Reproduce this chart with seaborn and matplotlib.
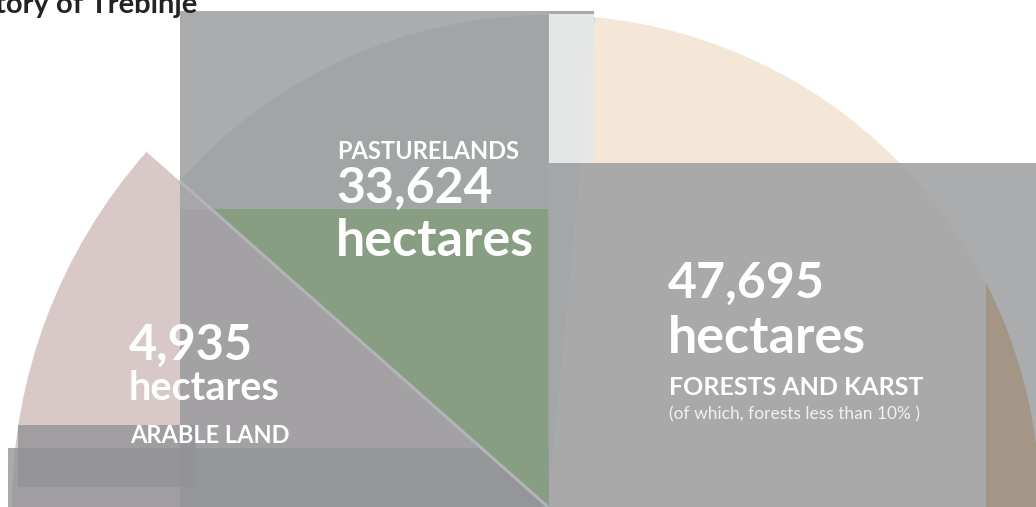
import numpy as np
import matplotlib
matplotlib.use("Agg")
import matplotlib.pyplot as plt
from matplotlib.patches import Rectangle
import seaborn as sns

# ---------------- data ----------------
categories = ["Forests and karst", "Other", "Pasturelands", "Arable land"]
hectares = [47695, 0, 33624, 4935]
# angular share of each slice on the half disc (degrees)
arc_degrees = [84.5, 5.5, 48.5, 41.5]
slice_colors = ["#f5e7d8", "#c9d3de", "#879e82", "#d9c8c8"]
title_text = "Territory of Trebinje"
unit_text = "hectares"
forest_note = "(of which, forests less than 10% )"

# ---------------- style ----------------
sns.set_theme(style="white")
plt.rcParams["font.family"] = ["Lato", "DejaVu Sans"]
palette = sns.color_palette(slice_colors)

W, H = 1036, 507
fig = plt.figure(figsize=(W / 100, H / 100), dpi=100)
ax = fig.add_axes([0, 0, 1, 1])

CX, CY = 548, 0
R = 492

values = list(arc_degrees) + [sum(arc_degrees)]  # hidden lower half
wedges, _ = ax.pie(values, colors=list(palette) + ["white"], startangle=0,
                   counterclock=True, center=(CX, CY), radius=R, frame=True,
                   wedgeprops=dict(linewidth=0))
wedges[-1].set_visible(False)
beige, other, green, pink = wedges[0], wedges[1], wedges[2], wedges[3]
pink.set_radius(536)
for w in (beige, other, pink):
    w.set_zorder(1)
green.set_zorder(5)

ax.set_xlim(0, W)
ax.set_ylim(0, H)
ax.set_aspect("auto")
ax.axis("off")


def prect(x0, x1, py0, py1, z, **kw):
    r = Rectangle((x0, H - py1), x1 - x0, py1 - py0, zorder=z, linewidth=0, **kw)
    ax.add_patch(r)
    return r


# overlay panels
prect(180, 549, 209, 507, 2, facecolor="#a4a1a4")
prect(18, 196, 425, 487, 3, facecolor=(146/255, 147/255, 151/255), alpha=0.78)
prect(8, 549, 448, 507, 4, facecolor=(146/255, 147/255, 151/255), alpha=0.78)
prect(180, 549, 11, 209, 6, facecolor=(165/255, 166/255, 168/255), alpha=0.93)
prect(549, 594, 11, 14, 6, facecolor="#a9a9a9")
prect(549, 594, 14, 163, 7, facecolor="#e7e7e7", alpha=0.97)
prect(549, W, 163, 507, 6, facecolor=(159/255, 161/255, 163/255), alpha=0.88)
brown = prect(986, W, 282, 507, 7, facecolor="#a39686")
brown.set_clip_path(beige)

# separator between arable land and pastures
th = np.deg2rad(green.theta2)
ax.plot([CX, CX + R * np.cos(th)], [CY, CY + R * np.sin(th)],
        color="#b2b4b8", lw=2.2, zorder=8, solid_capstyle="butt")


def label(x, py, s, size, weight="bold", color="white"):
    ax.text(x, H - py, s, fontsize=size, fontweight=weight, color=color,
            ha="left", va="baseline", zorder=10)


fmt = lambda v: f"{v:,}"

# pasturelands
label(337, 159, categories[2].upper(), 17)
label(336, 203, fmt(hectares[2]), 36)
label(336, 256, unit_text, 37.5)

# forests and karst
label(668, 298, fmt(hectares[0]), 36)
label(668, 353, unit_text, 37.5)
label(669, 395, categories[0].upper(), 18)
label(669, 419, forest_note, 12.5, weight="normal", color="#f0f0f0")

# arable land
label(129, 360, fmt(hectares[3]), 35)
label(129, 400, unit_text, 28.5)
label(130, 443, categories[3].upper(), 17)

# title (cropped at the top-left as in the source)
ax.text(197, H - 13, title_text, fontsize=21, fontweight="bold", color="#232323",
        ha="right", va="baseline", zorder=10)

fig.savefig("out.png", dpi=100)
